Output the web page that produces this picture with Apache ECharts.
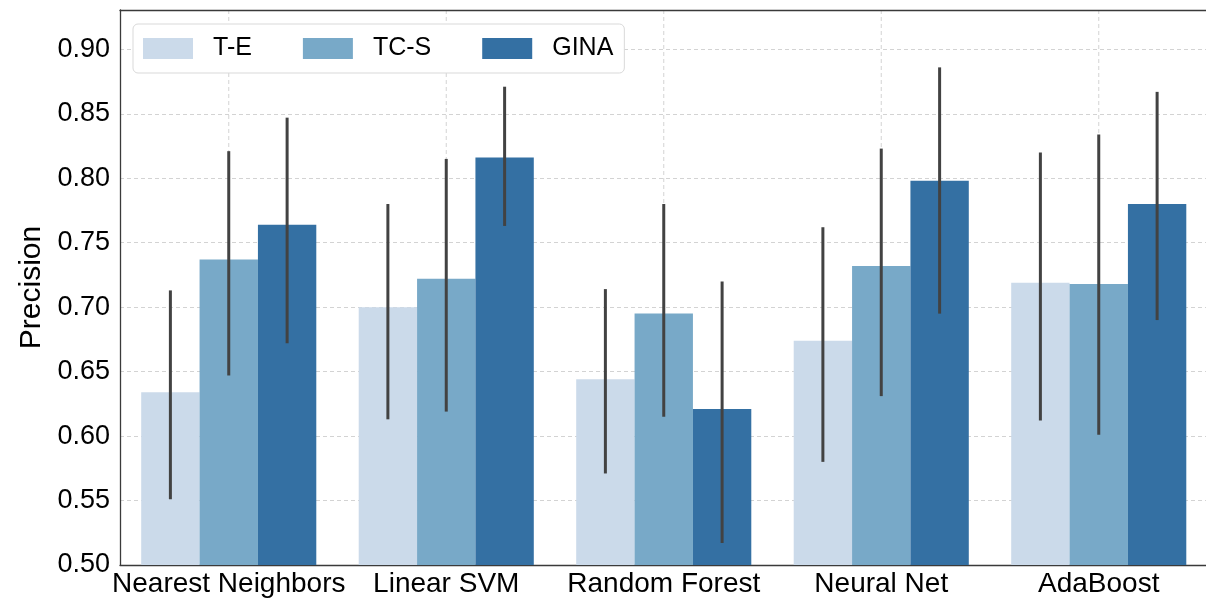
<!DOCTYPE html>
<html>
<head>
<meta charset="utf-8">
<script src="https://cdn.jsdelivr.net/npm/echarts@6/dist/echarts.min.js"></script>
<style>
  html, body { margin: 0; padding: 0; background: #fff; overflow: hidden; }
  #chart { width: 1206px; height: 600px; }
</style>
</head>
<body>
<div id="chart"></div>
<script>
// Classifier precision per feature set, with confidence intervals
const categories = ['Nearest Neighbors', 'Linear SVM', 'Random Forest', 'Neural Net', 'AdaBoost'];
const seriesNames = ['T-E', 'TC-S', 'GINA'];

const teMean   = [0.634, 0.700, 0.644, 0.674, 0.719];
const tcsMean  = [0.737, 0.722, 0.695, 0.732, 0.718];
const ginaMean = [0.764, 0.816, 0.621, 0.798, 0.780];

const teLow    = [0.551, 0.613, 0.571, 0.580, 0.612];
const teHigh   = [0.713, 0.780, 0.714, 0.762, 0.820];
const tcsLow   = [0.647, 0.619, 0.615, 0.631, 0.601];
const tcsHigh  = [0.821, 0.815, 0.780, 0.823, 0.834];
const ginaLow  = [0.672, 0.763, 0.517, 0.695, 0.690];
const ginaHigh = [0.847, 0.871, 0.720, 0.886, 0.867];

const yTicks = [0.50, 0.55, 0.60, 0.65, 0.70, 0.75, 0.80, 0.85, 0.90];

const colors = ['#cbdaea', '#78a9c8', '#3470a3'];
const FONT = "'Liberation Sans', Arial, Helvetica, sans-serif";
const SPINE = '#3a3a3a';
const CAT_GAP = 0.195;   // fraction of each band left empty
const nSeries = 3;

const means = [teMean, tcsMean, ginaMean];
const lows = [teLow, tcsLow, ginaLow];
const highs = [teHigh, tcsHigh, ginaHigh];

const chart = echarts.init(document.getElementById('chart'), null, { renderer: 'canvas' });

function barSeries(i) {
  return {
    name: seriesNames[i],
    type: 'bar',
    data: means[i],
    itemStyle: { color: colors[i] },
    barGap: '0%',
    barCategoryGap: (CAT_GAP * 100) + '%',
    z: 2,
    emphasis: { disabled: true }
  };
}

function errSeries(i) {
  return {
    name: seriesNames[i] + ' CI',
    type: 'custom',
    z: 5,
    silent: true,
    data: categories.map((c, k) => [k, lows[i][k], highs[i][k]]),
    encode: { x: 0, y: [1, 2] },
    renderItem: function (params, api) {
      const k = api.value(0);
      const band = api.size([1, 0])[0];
      const bw = band * (1 - CAT_GAP) / nSeries;
      const offset = (i - (nSeries - 1) / 2) * bw;
      const p1 = api.coord([k, api.value(1)]);
      const p2 = api.coord([k, api.value(2)]);
      return {
        type: 'line',
        shape: { x1: p1[0] + offset, y1: p1[1], x2: p2[0] + offset, y2: p2[1] },
        style: { stroke: '#424242', lineWidth: 3, lineCap: 'butt' }
      };
    }
  };
}

// vertical dashed grid lines through each category centre
const vGrid = {
  name: 'vgrid',
  type: 'custom',
  z: 0,
  silent: true,
  data: categories.map((c, k) => [k, 0.7]),
  encode: { x: 0, y: 1 },
  renderItem: function (params, api) {
    const x = api.coord([api.value(0), 0.7])[0];
    const cs = params.coordSys;
    return {
      type: 'line',
      shape: { x1: x, y1: cs.y, x2: x, y2: cs.y + cs.height },
      style: { stroke: '#d3d3d3', lineWidth: 1, lineDash: [4, 3] }
    };
  }
};

chart.setOption({
  animation: false,
  backgroundColor: '#fff',
  grid: { left: 120, top: 10, width: 1087.5, height: 555, outerBoundsMode: 'none', containLabel: false },
  legend: {
    data: seriesNames,
    left: 133, top: 24,
    orient: 'horizontal',
    icon: 'rect',
    itemWidth: 50, itemHeight: 21,
    itemGap: 51,
    padding: [12, 11, 12, 10],
    backgroundColor: '#fff',
    borderColor: '#d9d9d9', borderWidth: 1, borderRadius: 5,
    textStyle: { fontFamily: FONT, fontSize: 25, color: '#000', padding: [0, 0, 0, 15] },
    selectedMode: false
  },
  xAxis: [{
    type: 'category',
    data: categories,
    position: 'bottom',
    axisLine: { show: true, lineStyle: { color: SPINE, width: 1.3 } },
    axisTick: { show: false },
    axisLabel: { interval: 0, margin: 5, fontFamily: FONT, fontSize: 28, color: '#000' },
    splitLine: { show: false }
  }, {
    // top spine
    type: 'category',
    data: categories,
    position: 'top',
    axisLine: { show: true, onZero: false, lineStyle: { color: SPINE, width: 1.3 } },
    axisTick: { show: false },
    axisLabel: { show: false },
    splitLine: { show: false }
  }],
  yAxis: {
    type: 'value',
    min: 0.5, max: 0.9305, interval: 0.05,
    name: 'Precision',
    nameLocation: 'middle',
    nameGap: 65,
    nameRotate: 90,
    nameTextStyle: { fontFamily: FONT, fontSize: 30, color: '#000' },
    axisLine: { show: true, lineStyle: { color: SPINE, width: 1.3 } },
    axisTick: { show: false },
    axisLabel: {
      margin: 10, fontFamily: FONT, fontSize: 27, color: '#000',
      formatter: function (v) {
        const hit = yTicks.find(t => Math.abs(t - v) < 1e-6);
        return hit === undefined ? '' : hit.toFixed(2);
      }
    },
    splitLine: {
      show: true, showMinLine: false, showMaxLine: false,
      lineStyle: { color: '#d3d3d3', width: 1, type: [4, 3] }
    }
  },
  series: [vGrid, barSeries(0), barSeries(1), barSeries(2), errSeries(0), errSeries(1), errSeries(2)]
});
</script>
</body>
</html>
